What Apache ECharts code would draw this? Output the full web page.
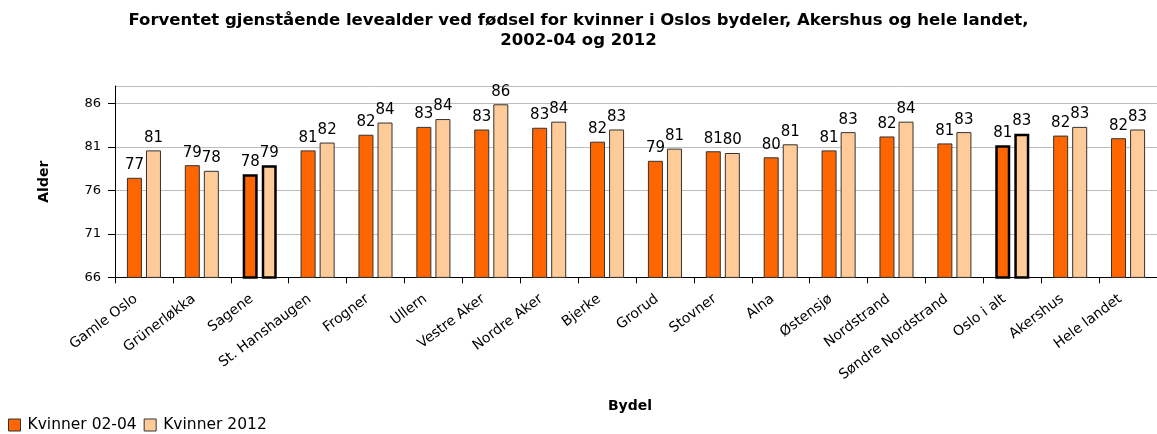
<!DOCTYPE html>
<html>
<head>
<meta charset="utf-8">
<script src="https://cdn.jsdelivr.net/npm/echarts@6/dist/echarts.min.js"></script>
<style>html,body{margin:0;padding:0;background:#fff}#c{width:1157px;height:434px}</style>
</head>
<body>
<div id="c"></div>
<script>
const categories = ["Gamle Oslo","Grünerløkka","Sagene","St. Hanshaugen","Frogner","Ullern","Vestre Aker","Nordre Aker","Bjerke","Grorud","Stovner","Alna","Østensjø","Nordstrand","Søndre Nordstrand","Oslo i alt","Akershus","Hele landet"];
const kvinner0204 = [77.45,78.9,77.85,80.6,82.4,83.3,83.0,83.2,81.6,79.4,80.5,79.8,80.6,82.2,81.4,81.2,82.3,82.0];
const kvinner2012 = [80.6,78.25,78.9,81.5,83.8,84.2,85.9,83.9,83.0,80.8,80.3,81.3,82.7,83.9,82.7,82.5,83.3,83.0];
const yTicks = [66,71,76,81,86];
const highlighted = ["Sagene","Oslo i alt"];

const FONT = "DejaVu Sans";
function mkData(vals){
  return vals.map((v,i)=>{
    const hl = highlighted.includes(categories[i]);
    return hl ? {value:v, itemStyle:{borderColor:'#000', borderWidth:2.5}} : {value:v};
  });
}
const chart = echarts.init(document.getElementById('c'));
chart.setOption({
  animation:false,
  textStyle:{fontFamily:FONT},
  title:{
    text:"Forventet gjenstående levealder ved fødsel for kvinner i Oslos bydeler, Akershus og hele landet,\n2002-04 og 2012",
    left:'center', top:6,
    textStyle:{fontFamily:FONT, fontWeight:'bold', fontSize:16.5, lineHeight:20, color:'#000'}
  },
  legend:{
    left:3, top:412, itemWidth:12, itemHeight:12, itemGap:7,
    icon:'rect',
    itemStyle:{borderColor:'#333', borderWidth:1},
    textStyle:{fontFamily:FONT, fontSize:15.5, color:'#000', padding:[0,0,0,2]},
    data:["Kvinner 02-04","Kvinner 2012"]
  },
  grid:{left:115, right:-7, top:86, bottom:156.6, containLabel:false},
  xAxis:{
    type:'category', data:categories,
    name:'Bydel', nameLocation:'middle', nameGap:122,
    nameTextStyle:{fontFamily:FONT, fontWeight:'bold', fontSize:14, color:'#000', padding:[0,12,0,0]},
    axisLine:{lineStyle:{color:'#000', width:1}},
    axisTick:{show:true, length:6, alignWithLabel:false, lineStyle:{color:'#000'}},
    axisLabel:{rotate:37, interval:0, margin:14, padding:[0,10,0,0], fontFamily:FONT, fontSize:14, color:'#000'}
  },
  yAxis:{
    type:'value', min:66, max:88, interval:5,
    name:'Alder', nameLocation:'middle', nameGap:64, nameRotate:90,
    nameTextStyle:{fontFamily:FONT, fontWeight:'bold', fontSize:14, color:'#000'},
    axisLine:{show:true, lineStyle:{color:'#000', width:1}},
    axisTick:{show:true, length:7, lineStyle:{color:'#000'}},
    axisLabel:{margin:14, fontFamily:FONT, fontSize:13, color:'#000', showMaxLabel:false,
      formatter:v=> yTicks.includes(v) ? String(v) : ''},
    splitLine:{show:true, lineStyle:{color:'#bdbdbd', width:1}}
  },
  series:[
    {name:"Kvinner 02-04", type:'bar', data:mkData(kvinner0204), barWidth:15, barGap:'27%',
     itemStyle:{color:'#FF6600', borderColor:'#333', borderWidth:1},
     label:{show:true, position:'top', distance:5, fontFamily:FONT, fontSize:15, color:'#000', formatter:p=>Math.round(p.value)}},
    {name:"Kvinner 2012", type:'bar', data:mkData(kvinner2012), barWidth:15,
     itemStyle:{color:'#FFCC99', borderColor:'#333', borderWidth:1},
     label:{show:true, position:'top', distance:5, fontFamily:FONT, fontSize:15, color:'#000', formatter:p=>Math.round(p.value)}}
  ]
});
</script>
</body>
</html>
